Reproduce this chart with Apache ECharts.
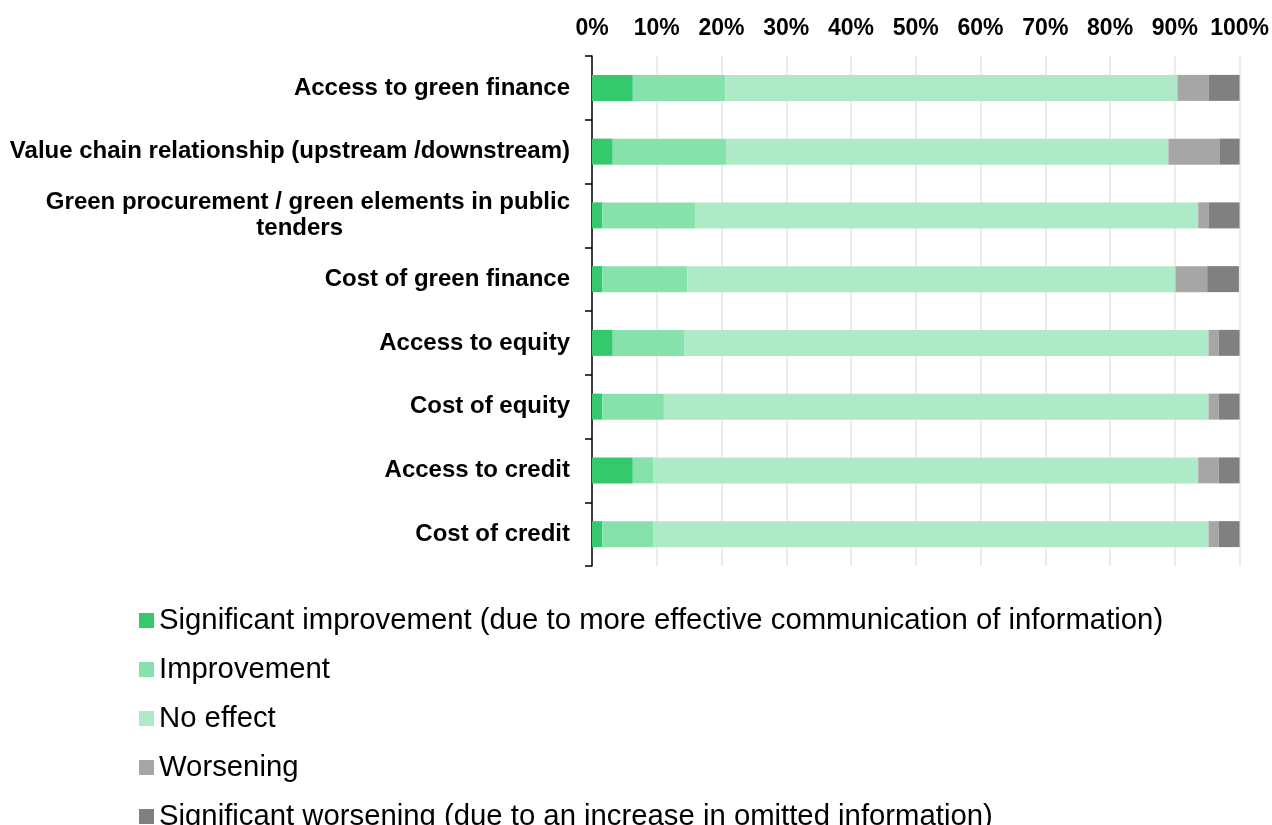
<!DOCTYPE html>
<html>
<head>
<meta charset="utf-8">
<script src="https://cdn.jsdelivr.net/npm/echarts@6/dist/echarts.min.js"></script>
<style>
  html, body { margin: 0; padding: 0; background: #ffffff; }
  #chart { width: 1272px; height: 825px; }
</style>
</head>
<body>
<div id="chart"></div>
<script>
// Survey categories, top to bottom
const categories = [
  'Access to green finance',
  'Value chain relationship (upstream /downstream)',
  'Green procurement / green elements in public\ntenders',
  'Cost of green finance',
  'Access to equity',
  'Cost of equity',
  'Access to credit',
  'Cost of credit'
];

// Share of answers (%) per category
const significantImprovement = [6.3, 3.2, 1.6, 1.6, 3.2, 1.6, 6.3, 1.6];
const improvement            = [14.3, 17.5, 14.3, 13.1, 11.1, 9.5, 3.2, 7.9];
const noEffect               = [69.8, 68.3, 77.7, 75.4, 80.9, 84.1, 84.1, 85.7];
const worsening              = [4.8, 7.9, 1.6, 4.9, 1.6, 1.6, 3.2, 1.6];
const significantWorsening   = [4.8, 3.1, 4.8, 4.9, 3.2, 3.2, 3.2, 3.2];

const seriesNames = [
  'Significant improvement (due to more effective communication of information)',
  'Improvement',
  'No effect',
  'Worsening',
  'Significant worsening (due to an increase in omitted information)'
];
const seriesColors = ['#35C96E', '#86E1AA', '#AFEAC8', '#A6A6A6', '#808080'];
const seriesValues = [significantImprovement, improvement, noEffect, worsening, significantWorsening];

const xTicks = [0, 10, 20, 30, 40, 50, 60, 70, 80, 90, 100];

const FONT = '"Liberation Sans", Arial, sans-serif';

const chart = echarts.init(document.getElementById('chart'), null, { renderer: 'canvas' });

chart.setOption({
  animation: false,
  backgroundColor: '#ffffff',
  textStyle: { fontFamily: FONT },
  grid: { left: 592, right: 32, top: 56, height: 510, containLabel: false },
  xAxis: {
    type: 'value',
    position: 'top',
    min: xTicks[0],
    max: xTicks[xTicks.length - 1],
    interval: 10,
    axisLine: { show: false },
    axisTick: { show: false },
    axisLabel: {
      formatter: v => v + '%',
      fontFamily: FONT,
      fontWeight: 'bold',
      fontSize: 23,
      color: '#000000',
      margin: 16
    },
    splitLine: { show: true, lineStyle: { color: '#e6e6e6', width: 1.5 } }
  },
  yAxis: {
    type: 'category',
    inverse: true,
    data: categories,
    axisLine: { show: true, lineStyle: { color: '#000000', width: 1.5 } },
    axisTick: { show: true, length: 7, alignWithLabel: false, lineStyle: { color: '#000000', width: 1.5 } },
    axisLabel: {
      margin: 22,
      fontFamily: FONT,
      fontWeight: 'bold',
      fontSize: 24,
      color: '#000000',
      align: 'right',
      formatter: function (value) {
        const parts = value.split('\n');
        if (parts.length === 1) return '{a|' + value + '}';
        return '{a|' + parts[0] + '}\n{b|' + parts[1] + '}';
      },
      rich: {
        a: { fontFamily: FONT, fontWeight: 'bold', fontSize: 24, color: '#000000', lineHeight: 26, align: 'right' },
        b: { fontFamily: FONT, fontWeight: 'bold', fontSize: 24, color: '#000000', lineHeight: 26, align: 'right', padding: [0, 227, 0, 0] }
      }
    }
  },
  legend: {
    orient: 'vertical',
    left: 139,
    top: 606,
    height: 400,
    padding: 0,
    icon: 'rect',
    itemWidth: 15,
    itemHeight: 15,
    itemGap: 20,
    data: seriesNames,
    textStyle: { fontFamily: FONT, fontSize: 29.3, color: '#000000' }
  },
  series: seriesNames.map((name, i) => ({
    name: name,
    type: 'bar',
    stack: 'total',
    barWidth: 26,
    itemStyle: { color: seriesColors[i] },
    emphasis: { disabled: true },
    data: seriesValues[i]
  }))
});
</script>
</body>
</html>
